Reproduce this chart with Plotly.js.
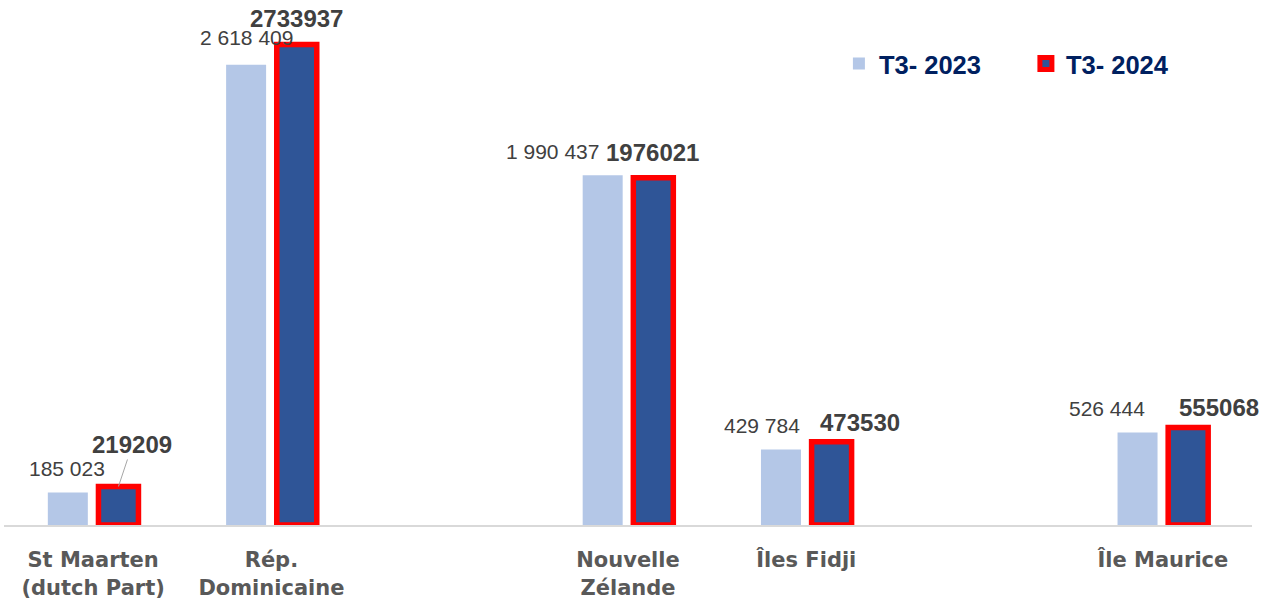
<!DOCTYPE html>
<html>
<head>
<meta charset="utf-8">
<script src="https://cdn.plot.ly/plotly-3.0.1.min.js"></script>
<style>html,body{margin:0;padding:0;background:#fff;}#chart{width:1263px;height:601px;}</style>
</head>
<body>
<div id="chart"></div>
<script>
// ---- data ----
const categories = ['St Maarten<br>(dutch Part)', 'Rép.<br>Dominicaine', 'Nouvelle<br>Zélande', 'Îles Fidji', 'Île Maurice'];
const axisSlots = [categories[0], categories[1], ' ', categories[2], categories[3], '  ', categories[4]];
const seriesNames = ['T3- 2023', 'T3- 2024'];
const t3_2023 = [185023, 2618409, 1990437, 429784, 526444];
const t3_2024 = [219209, 2733937, 1976021, 473530, 555068];

// ---- layout constants ----
const W = 1263, H = 601;
const margin = {l: 4, r: 11, t: 5, b: 76};
const bargap = 0.432, bargroupgap = 0.21;
const yMax = 2958800;
const catW = (W - margin.l - margin.r) / axisSlots.length;
const slotOff = (1 - bargap) / 4 * catW;

// label placement tweaks (px): [dx, dy]
const lblOff2023 = [[-1, 24], [0, 27], [-50, 24], [-19, 24], [-31, 24]];
const lblOff2024 = [[0, 0], [0, 26], [-1, 25], [28, 19], [31, 20]];

const fmtSpace = v => String(v).replace(/\B(?=(\d{3})+(?!\d))/g, ' ');

const traces = [
  {
    type: 'bar', name: seriesNames[0], x: categories, y: t3_2023,
    marker: {color: '#b4c7e7', line: {width: 0}},
    hoverinfo: 'x+y'
  },
  {
    type: 'bar', name: seriesNames[1], x: categories, y: t3_2024,
    marker: {color: '#2f5597', line: {color: '#ff0000', width: 5.5}},
    hoverinfo: 'x+y'
  }
];

const annotations = [];
categories.forEach((c, i) => {
  annotations.push({
    x: c, y: t3_2023[i], xref: 'x', yref: 'y', text: fmtSpace(t3_2023[i]),
    showarrow: false, xanchor: 'center', yanchor: 'middle',
    xshift: -slotOff + lblOff2023[i][0], yshift: lblOff2023[i][1],
    font: {family: 'Liberation Sans, Arial, sans-serif', size: 21, color: '#404040'}
  });
  if (i === 0) {
    annotations.push({
      x: c, y: t3_2024[i], xref: 'x', yref: 'y', text: '<b>' + t3_2024[i] + '</b>',
      showarrow: true, arrowhead: 0, arrowwidth: 1, arrowcolor: '#a6a6a6',
      ax: 14, ay: -42, standoff: 0, xshift: slotOff,
      font: {family: 'Liberation Sans, Arial, sans-serif', size: 24, color: '#404040'}
    });
  } else {
    annotations.push({
      x: c, y: t3_2024[i], xref: 'x', yref: 'y', text: '<b>' + t3_2024[i] + '</b>',
      showarrow: false, xanchor: 'center', yanchor: 'middle',
      xshift: slotOff + lblOff2024[i][0], yshift: lblOff2024[i][1],
      font: {family: 'Liberation Sans, Arial, sans-serif', size: 24, color: '#404040'}
    });
  }
});

const layout = {
  width: W, height: H, margin: margin,
  paper_bgcolor: '#ffffff', plot_bgcolor: '#ffffff',
  barmode: 'group', bargap: bargap, bargroupgap: bargroupgap,
  showlegend: true,
  legend: {
    orientation: 'h', x: 0.669, y: 0.8865, xanchor: 'left', yanchor: 'middle',
    font: {family: 'Liberation Sans, Arial, sans-serif', size: 25.5, color: '#002060', weight: 'bold'},
    entrywidth: 142, bgcolor: 'rgba(0,0,0,0)'
  },
  xaxis: {
    type: 'category', categoryorder: 'array', categoryarray: axisSlots,
    range: [-0.5, axisSlots.length - 0.5],
    showline: true, linecolor: '#d9d9d9', linewidth: 2,
    showgrid: false, zeroline: false, ticks: '', ticklabelstandoff: 15,
    tickfont: {family: 'DejaVu Sans, sans-serif', size: 21, color: '#595959', weight: 'bold'},
    fixedrange: true
  },
  yaxis: {visible: false, range: [0, yMax], fixedrange: true},
  annotations: annotations
};

Plotly.newPlot('chart', traces, layout, {displayModeBar: false, staticPlot: true});
</script>
</body>
</html>
